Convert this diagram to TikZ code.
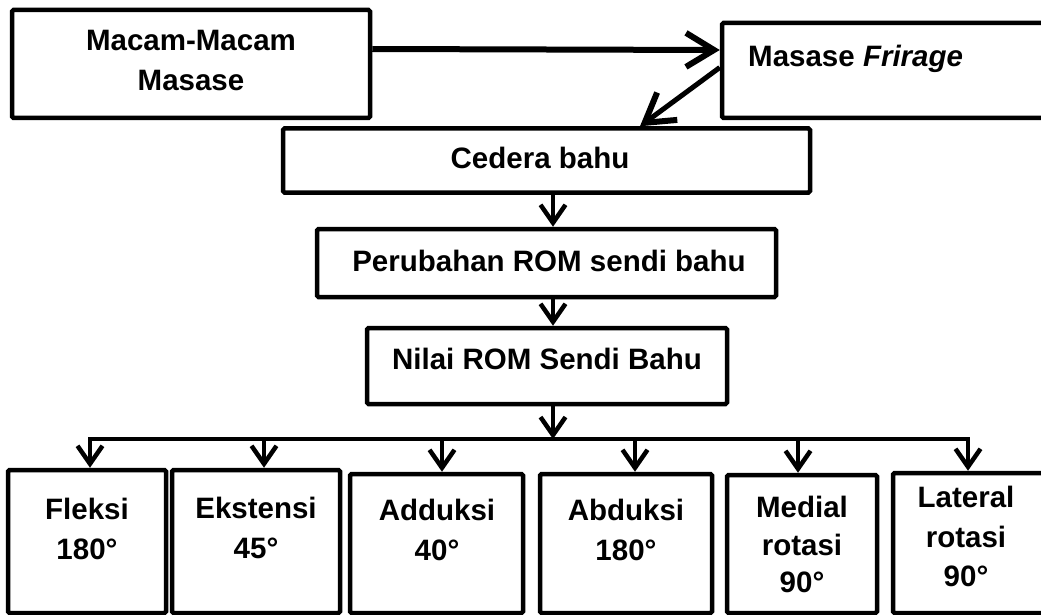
\documentclass[tikz,border=0pt]{standalone}
\usepackage{fontspec}
\setmainfont{Liberation Sans}
\usetikzlibrary{arrows.meta}
\begin{document}
\begin{tikzpicture}[x=1pt,y=-1pt,
  box/.style={draw, line width=4.5pt, rounded corners=1.5pt, inner sep=0pt, fill=white},
  lbl/.style={inner sep=0pt, font=\bfseries\fontsize{29.5}{39.5}\selectfont, align=center},
  arr/.style={line width=4pt, -{Straight Barb[length=18pt,width=25pt,line width=4.5pt]}},
  bigarr/.style={line width=6pt, -{Straight Barb[length=28pt,width=34pt,line width=6pt]}}]
\useasboundingbox (0,0) rectangle (1041,615);
\clip (0,0) rectangle (1041,615);

% top boxes
\node[box, minimum width=358pt, minimum height=108pt] (b1) at (191,64) {};
\node[lbl, anchor=north] (t1) at (191,30.5) {Macam-Macam\\Masase};
\node[box, minimum width=348pt, minimum height=95pt] (b2) at (896,70.5) {};
\node[lbl, anchor=base west] (t2) at (748,67) {Masase \textit{Frirage}};
\node[box, minimum width=527pt, minimum height=64pt] (ced) at (546.5,160.5) {};
\node[lbl, anchor=base] (tc) at (540,168) {Cedera bahu};
\node[box, minimum width=459pt, minimum height=68pt] (per) at (546.5,263) {};
\node[lbl, anchor=base] (tp) at (549,271) {Perubahan ROM sendi bahu};
\node[box, minimum width=360pt, minimum height=76pt] (nil) at (547,366) {};
\node[lbl, anchor=base] (tn) at (547,369) {Nilai ROM Sendi Bahu};

% bottom boxes
\node[box, minimum width=158pt, minimum height=143pt] (f1) at (87,541.5) {};
\node[box, minimum width=168pt, minimum height=143pt] (f2) at (256,541.5) {};
\node[box, minimum width=173pt, minimum height=139pt] (f3) at (436.5,543.5) {};
\node[box, minimum width=172pt, minimum height=139pt] (f4) at (626,543.5) {};
\node[box, minimum width=150pt, minimum height=138pt] (f5) at (802,544) {};
\node[box, minimum width=167pt, minimum height=140pt] (f6) at (976.5,543) {};

\node[lbl, anchor=north] (l1) at (87,498) {Fleksi\\180°};
\node[lbl, anchor=north] (l2) at (256,497) {Ekstensi\\45°};
\node[lbl, anchor=north] (l3) at (437,499) {Adduksi\\40°};
\node[lbl, anchor=north] (l4) at (626,499) {Abduksi\\180°};
\node[lbl, anchor=north, font=\bfseries\fontsize{29.5}{37.5}\selectfont] (l5) at (802,496) {Medial\\rotasi\\90°};
\node[lbl, anchor=north] (l6) at (966,486) {Lateral\\rotasi\\90°};

% connectors
\draw[bigarr] ([yshift=15pt]b1.east) -- ([yshift=20.5pt]b2.west);
\draw[bigarr, line width=5pt] ([yshift=3pt]b2.west) -- ([xshift=93.5pt]ced.north);
\draw[arr] ([xshift=6.5pt]ced.south) -- ([xshift=6.5pt]per.north);
\draw[arr] ([xshift=6.5pt]per.south) -- ([xshift=6pt]nil.north);
\coordinate (bus) at (553,439);
\draw[arr] ([xshift=6pt]nil.south) -- (bus);
\draw[line width=4pt, line cap=rect] ([xshift=3pt]f1.north |- bus) -- ([xshift=-8.5pt]f6.north |- bus);
\draw[arr] ([xshift=3pt]f1.north |- bus) -- ([xshift=3pt]f1.north);
\draw[arr] ([xshift=8pt]f2.north |- bus) -- ([xshift=8pt]f2.north);
\draw[arr] ([xshift=5.5pt]f3.north |- bus) -- ([xshift=5.5pt]f3.north);
\draw[arr] ([xshift=9pt]f4.north |- bus) -- ([xshift=9pt]f4.north);
\draw[arr] ([xshift=-4pt]f5.north |- bus) -- ([xshift=-4pt]f5.north);
\draw[arr] ([xshift=-8.5pt]f6.north |- bus) -- ([xshift=-8.5pt]f6.north);
\end{tikzpicture}
\end{document}
